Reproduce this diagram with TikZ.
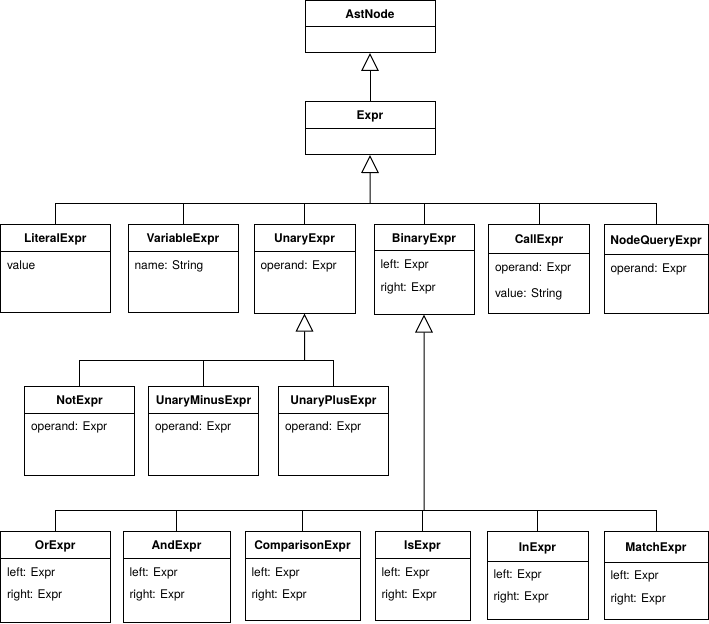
\documentclass[tikz,border=0pt]{standalone}
\usepackage{fontspec}
\setmainfont{TeX Gyre Heros}
\usetikzlibrary{positioning,arrows.meta}
\begin{document}
\begin{tikzpicture}[x=1bp,y=-1bp,line width=1bp,
  head/.style={draw,anchor=north west,inner sep=0pt,outer sep=0pt,minimum height=27bp,text height=9bp,text depth=0pt,font=\fontsize{12}{14}\selectfont\bfseries},
  body/.style={draw,inner sep=0pt,outer sep=0pt,below=0pt of #1},
  attr/.style={anchor=base west,inner sep=0pt,font=\fontsize{12}{14}\selectfont},
  isa/.style={-{Triangle[open,length=18bp,width=17.6bp]}}]
\useasboundingbox (0,0) rectangle (709,624);
% top
\node[head,minimum width=130bp,minimum height=26bp] (ast) at (305,1) {AstNode};
\node[body=ast,minimum width=130bp,minimum height=26bp] (ast-b) {};
\node[head,minimum width=130bp] (expr) at (305,102) {Expr};
\node[body=expr,minimum width=130bp,minimum height=26bp] (expr-b) {};
% first row
\node[head,minimum width=109.5bp] (lit) at (0.5,224.5) {LiteralExpr};
\node[body=lit,minimum width=109.5bp,minimum height=61bp] (lit-b) {};
\node[attr] (lit-a1) at (6.5,269) {value};
\node[head,minimum width=110bp] (var) at (128,224.5) {VariableExpr};
\node[body=var,minimum width=110bp,minimum height=61bp] (var-b) {};
\node[attr] (var-a1) at (134,269) {name: String};
\node[head,minimum width=101bp] (unary) at (254,224.5) {UnaryExpr};
\node[body=unary,minimum width=101bp,minimum height=62bp] (unary-b) {};
\node[attr] (unary-a1) at (260,269) {operand: Expr};
\node[head,minimum width=100bp,minimum height=26bp] (binary) at (374,224.5) {BinaryExpr};
\node[body=binary,minimum width=100bp,minimum height=64bp] (binary-b) {};
\node[attr] (binary-a1) at (380,268.5) {left: Expr};
\node[attr] (binary-a2) at (380,291) {right: Expr};
\node[head,minimum width=101bp,minimum height=29bp] (call) at (488.5,224.5) {CallExpr};
\node[body=call,minimum width=101bp,minimum height=60bp] (call-b) {};
\node[attr] (call-a1) at (494.5,271.5) {operand: Expr};
\node[attr] (call-a2) at (494.5,297) {value: String};
\node[head,minimum width=104bp,minimum height=30bp] (nquery) at (604,224.5) {NodeQueryExpr};
\node[body=nquery,minimum width=104bp,minimum height=59bp] (nquery-b) {};
\node[attr] (nquery-a1) at (610,272) {operand: Expr};
% unary subclasses
\node[head,minimum width=110bp] (notx) at (24.5,386) {NotExpr};
\node[body=notx,minimum width=110bp,minimum height=62bp] (notx-b) {};
\node[attr] (notx-a1) at (30.5,430.5) {operand: Expr};
\node[head,minimum width=110bp] (uminus) at (148.5,386) {UnaryMinusExpr};
\node[body=uminus,minimum width=110bp,minimum height=62bp] (uminus-b) {};
\node[attr] (uminus-a1) at (154.5,430.5) {operand: Expr};
\node[head,minimum width=110bp] (uplus) at (278.5,386) {UnaryPlusExpr};
\node[body=uplus,minimum width=110bp,minimum height=62bp] (uplus-b) {};
\node[attr] (uplus-a1) at (284.5,430.5) {operand: Expr};
% binary subclasses
\node[head,minimum width=109.5bp] (orx) at (0.5,531.5) {OrExpr};
\node[body=orx,minimum width=109.5bp,minimum height=64bp] (orx-b) {};
\node[attr] (orx-a1) at (6.5,576) {left: Expr};
\node[attr] (orx-a2) at (6.5,598.5) {right: Expr};
\node[head,minimum width=107bp] (andx) at (123,531.5) {AndExpr};
\node[body=andx,minimum width=107bp,minimum height=64bp] (andx-b) {};
\node[attr] (andx-a1) at (129,576) {left: Expr};
\node[attr] (andx-a2) at (129,598.5) {right: Expr};
\node[head,minimum width=115bp] (comp) at (245,531.5) {ComparisonExpr};
\node[body=comp,minimum width=115bp,minimum height=62bp] (comp-b) {};
\node[attr] (comp-a1) at (251,576) {left: Expr};
\node[attr] (comp-a2) at (251,598.5) {right: Expr};
\node[head,minimum width=95bp] (isx) at (375,531.5) {IsExpr};
\node[body=isx,minimum width=95bp,minimum height=62bp] (isx-b) {};
\node[attr] (isx-a1) at (381,576) {left: Expr};
\node[attr] (isx-a2) at (381,598.5) {right: Expr};
\node[head,minimum width=101bp,minimum height=30bp] (inx) at (487,531.5) {InExpr};
\node[body=inx,minimum width=101bp,minimum height=58bp] (inx-b) {};
\node[attr] (inx-a1) at (493,578) {left: Expr};
\node[attr] (inx-a2) at (493,600.5) {right: Expr};
\node[head,minimum width=104bp,minimum height=31bp] (match) at (604,531.5) {MatchExpr};
\node[body=match,minimum width=104bp,minimum height=57bp] (match-b) {};
\node[attr] (match-a1) at (610,579.5) {left: Expr};
\node[attr] (match-a2) at (610,602) {right: Expr};
% generalisations
\coordinate (j0) at (370,203);
\coordinate (j1) at (304.5,360);
\coordinate (j2) at (424,510);
\draw[isa] (expr) -- (ast-b);
\draw[isa] (j0) -- (expr-b);
\draw (lit) |- (j0);
\draw (var) |- (j0);
\draw (unary) |- (j0);
\draw (binary) |- (j0);
\draw (call) |- (j0);
\draw (nquery) |- (j0);
\draw[isa] (j1) -- (unary-b);
\draw (notx) |- (j1);
\draw (uminus) |- (j1);
\draw (uplus) |- (j1);
\draw[isa] (j2) -- (binary-b);
\draw (orx) |- (j2);
\draw (andx) |- (j2);
\draw (comp) |- (j2);
\draw (isx) |- (j2);
\draw (inx) |- (j2);
\draw (match) |- (j2);
\end{tikzpicture}
\end{document}
